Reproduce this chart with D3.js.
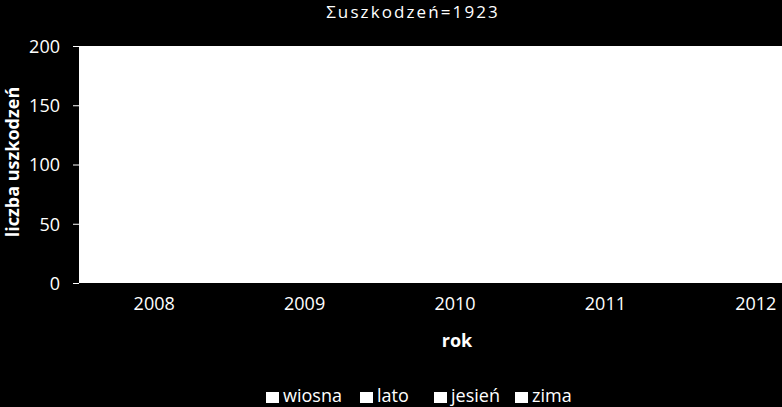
<!DOCTYPE html>
<html>
<head>
<meta charset="utf-8">
<script src="https://cdn.jsdelivr.net/npm/d3@7"></script>
<style>
  html, body { margin: 0; padding: 0; background: #000; }
  svg { display: block; }
  svg text { font-family: "Open Sans", sans-serif; }
</style>
</head>
<body>
<svg width="782" height="407"></svg>
<script>
const years = ["2008", "2009", "2010", "2011", "2012"];
const seasons = ["wiosna", "lato", "jesień", "zima"];
// estimated counts per season (bars are drawn white on white in the original)
const wiosna = [95, 88, 102, 90, 84];
const lato = [70, 75, 80, 68, 72];
const jesien = [110, 98, 105, 112, 100];
const zima = [120, 115, 108, 125, 106];
const yTicks = [0, 50, 100, 150, 200];

const series = [wiosna, lato, jesien, zima];
const total = d3.sum(series.flat());

const svg = d3.select("svg");
const width = +svg.attr("width");
const height = +svg.attr("height");
const margin = {top: 46, left: 79, bottom: 283};

svg.append("rect").attr("width", width).attr("height", height).attr("fill", "#000");

// category axis continues past the right edge (as in the original)
const x = d3.scaleBand().domain(years).range([margin.left, 831]).paddingInner(0).paddingOuter(0);
const xs = d3.scaleBand().domain(seasons).range([0, x.bandwidth()]).paddingInner(0).paddingOuter(0.6);
const y = d3.scaleLinear().domain([0, 200]).range([margin.bottom, margin.top]);

// plot area
svg.append("rect")
  .attr("x", margin.left).attr("y", margin.top)
  .attr("width", 831 - margin.left).attr("height", margin.bottom - margin.top)
  .attr("fill", "#fff");

// bars
const groups = svg.append("g").selectAll("g")
  .data(years)
  .join("g")
  .attr("transform", d => `translate(${x(d)},0)`);

groups.selectAll("rect")
  .data((yr, i) => seasons.map((s, j) => ({season: s, value: series[j][i]})))
  .join("rect")
  .attr("x", d => xs(d.season))
  .attr("width", xs.bandwidth())
  .attr("y", d => y(d.value))
  .attr("height", d => y(0) - y(d.value))
  .attr("fill", "#fff");

// y axis
const yAxis = svg.append("g")
  .attr("transform", `translate(${margin.left},0)`)
  .call(d3.axisLeft(y).tickValues(yTicks).tickSize(6).tickPadding(13));
yAxis.attr("font-family", null).attr("font-size", null);
yAxis.select(".domain").remove();
yAxis.selectAll("line").attr("stroke", "#fff");
yAxis.selectAll("text").attr("fill", "#fff").style("font-size", "18px").attr("dy", "0.35em");

// x axis
const xAxis = svg.append("g")
  .attr("transform", `translate(0,${margin.bottom})`)
  .call(d3.axisBottom(x).tickSize(0).tickPadding(14));
xAxis.attr("font-family", null).attr("font-size", null);
xAxis.select(".domain").remove();
xAxis.selectAll("text").attr("fill", "#fff").style("font-size", "18px");

// title
svg.append("text")
  .attr("x", 413).attr("y", 18)
  .attr("text-anchor", "middle")
  .attr("fill", "#fff")
  .style("font-size", "17px")
  .style("letter-spacing", "2.1px")
  .text(`Σuszkodzeń=${total}`);

// axis titles
svg.append("text")
  .attr("transform", "rotate(-90)")
  .attr("x", -162).attr("y", 19)
  .attr("text-anchor", "middle")
  .attr("fill", "#fff")
  .style("font-size", "18px")
  .style("font-weight", "bold")
  .text("liczba uszkodzeń");

svg.append("text")
  .attr("x", 457).attr("y", 347)
  .attr("text-anchor", "middle")
  .attr("fill", "#fff")
  .style("font-size", "18px")
  .style("font-weight", "bold")
  .text("rok");

// legend
const legendX = [266, 360, 434, 515];
const legend = svg.append("g");
seasons.forEach((s, i) => {
  const row = legend.append("g").attr("transform", `translate(${legendX[i]},392)`);
  row.append("rect").attr("width", 13).attr("height", 11).attr("fill", "#fff");
  row.append("text")
    .attr("x", 17).attr("y", 10)
    .attr("fill", "#fff")
    .style("font-size", "18px")
    .text(s);
});
</script>
</body>
</html>
